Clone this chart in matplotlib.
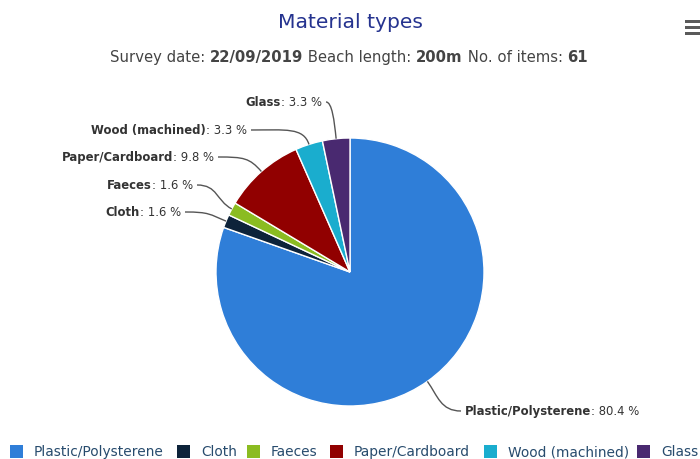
import numpy as np
import matplotlib
matplotlib.use("Agg")
import matplotlib.pyplot as plt
from matplotlib.patches import Rectangle, PathPatch
from matplotlib.path import Path

# ---- data ----
categories = ["Plastic/Polysterene", "Cloth", "Faeces", "Paper/Cardboard",
              "Wood (machined)", "Glass"]
percentages = [80.4, 1.6, 1.6, 9.8, 3.3, 3.3]
colors = ["#2f7ed8", "#0d233a", "#8bbc21", "#910000", "#1aadce", "#492970"]
title = "Material types"
subtitle_parts = [("Survey date: ", False), ("22/09/2019", True), (" Beach length: ", False),
                  ("200m", True), (" No. of items: ", False), ("61", True)]

# ---- layout ----
W, H = 700, 459
FONT = "DejaVu Sans"
fig = plt.figure(figsize=(W / 100, H / 100), dpi=100)
ax = fig.add_axes([0, 0, 1, 1])

def Y(y):  # top-based pixel -> axes y
    return H - y

cx, cy, R = 350, 272, 134
wedges, _ = ax.pie(percentages, colors=colors, startangle=90, counterclock=False,
                   center=(cx, Y(cy)), radius=R, frame=True,
                   wedgeprops=dict(edgecolor="white", linewidth=1.0))
ax.set_xlim(0, W)
ax.set_ylim(0, H)
ax.set_aspect("equal")
ax.axis("off")

renderer = fig.canvas.get_renderer()

def text_width(s, size, bold):
    t = ax.text(0, 0, s, fontsize=size, fontweight="bold" if bold else "normal", family=FONT)
    bb = t.get_window_extent(renderer=renderer)
    t.remove()
    return bb.width

def draw_parts(parts, x, y_base, size, color, align="left"):
    widths = [text_width(s, size, b) for s, b in parts]
    total = sum(widths)
    if align == "center":
        x0 = x - total / 2
    elif align == "right":
        x0 = x - total
    else:
        x0 = x
    for (s, b), w in zip(parts, widths):
        ax.text(x0, Y(y_base), s, fontsize=size, fontweight="bold" if b else "normal",
                family=FONT, color=color, ha="left", va="baseline")
        x0 += w
    return total

# title / subtitle
ax.text(350, Y(28), title, fontsize=14.6, color="#25338f", family=FONT,
        ha="center", va="baseline")
draw_parts(subtitle_parts, 349, 62, 10.7, "#444444", align="center")

# hamburger icon
for yy in (21, 27, 33):
    ax.add_patch(Rectangle((685, Y(yy) - 1.5), 16, 3.0, color="#5a5a5a", lw=0))

# data labels with connectors
label_pos = {  # (x anchor, y) top-based pixels; left-side labels are right-aligned
    "Glass": (322, 102), "Wood (machined)": (247, 130), "Paper/Cardboard": (214, 157),
    "Faeces": (193, 185), "Cloth": (181, 212), "Plastic/Polysterene": (465, 411),
}
cum = np.cumsum([0] + percentages)
for i, (cat, pct) in enumerate(zip(categories, percentages)):
    mid = np.deg2rad((cum[i] + pct / 2) / 100 * 360)
    ex, ey = cx + R * np.sin(mid), cy - R * np.cos(mid)
    ox, oy = np.sin(mid), -np.cos(mid)
    lx, ly = label_pos[cat]
    parts = [(cat, True), (": %.1f %%" % pct, False)]
    if ex < cx:
        draw_parts(parts, lx, ly + 4, 8.4, "#333333", align="right")
        p0 = (lx + 4, ly)
    else:
        draw_parts(parts, lx, ly + 4, 8.4, "#333333", align="left")
        p0 = (lx - 4, ly)
    c1 = (p0[0] + 0.6 * (ex - p0[0]), p0[1])
    c2 = (ex + ox * 18, ey + oy * 18)
    verts = [(p0[0], Y(p0[1])), (c1[0], Y(c1[1])), (c2[0], Y(c2[1])), (ex, Y(ey))]
    path = Path(verts, [Path.MOVETO, Path.CURVE4, Path.CURVE4, Path.CURVE4])
    ax.add_patch(PathPatch(path, fc="none", ec="#555555", lw=1.0))

# legend
legend_x = [10, 177, 247, 330, 484, 637]
for cat, col, lx in zip(categories, colors, legend_x):
    ax.add_patch(Rectangle((lx, Y(458)), 13, 13, color=col, lw=0))
    ax.text(lx + 24, Y(456), cat, fontsize=9.9, color="#274b6d", family=FONT,
            ha="left", va="baseline")

fig.savefig("out.png", dpi=100)
